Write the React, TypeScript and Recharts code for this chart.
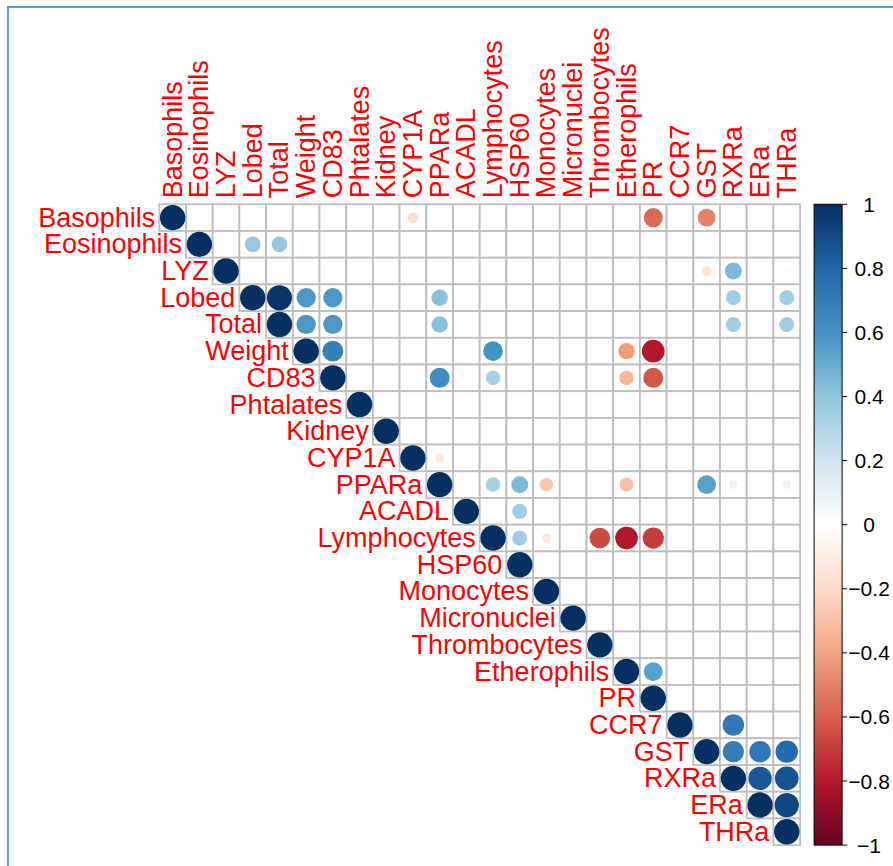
import React from "react";
import { ScatterChart, Scatter, XAxis, YAxis, Customized } from "recharts";

// variables in plot order
const VARS = [
  "Basophils", "Eosinophils", "LYZ", "Lobed", "Total", "Weight", "CD83",
  "Phtalates", "Kidney", "CYP1A", "PPARa", "ACADL", "Lymphocytes", "HSP60",
  "Monocytes", "Micronuclei", "Thrombocytes", "Etherophils", "PR", "CCR7",
  "GST", "RXRa", "ERa", "THRa",
];

// off-diagonal correlations (upper triangle)
const PAIRS: [string, string, number][] = [
  ["Basophils", "CYP1A", -0.18],
  ["Basophils", "PR", -0.57],
  ["Basophils", "GST", -0.5],
  ["Eosinophils", "Lobed", 0.38],
  ["Eosinophils", "Total", 0.38],
  ["LYZ", "GST", -0.15],
  ["LYZ", "RXRa", 0.45],
  ["LYZ", "ERa", 0.02],
  ["LYZ", "THRa", 0.03],
  ["Lobed", "Total", 0.98],
  ["Lobed", "Weight", 0.58],
  ["Lobed", "CD83", 0.58],
  ["Lobed", "PPARa", 0.42],
  ["Lobed", "RXRa", 0.35],
  ["Lobed", "THRa", 0.35],
  ["Total", "Weight", 0.58],
  ["Total", "CD83", 0.58],
  ["Total", "PPARa", 0.42],
  ["Total", "RXRa", 0.35],
  ["Total", "THRa", 0.35],
  ["Weight", "CD83", 0.68],
  ["Weight", "Lymphocytes", 0.6],
  ["Weight", "Etherophils", -0.42],
  ["Weight", "PR", -0.8],
  ["CD83", "PPARa", 0.62],
  ["CD83", "Lymphocytes", 0.33],
  ["CD83", "Etherophils", -0.33],
  ["CD83", "PR", -0.62],
  ["CYP1A", "PPARa", -0.12],
  ["PPARa", "Lymphocytes", 0.33],
  ["PPARa", "HSP60", 0.45],
  ["PPARa", "Monocytes", -0.28],
  ["PPARa", "Etherophils", -0.3],
  ["PPARa", "GST", 0.55],
  ["PPARa", "RXRa", 0.1],
  ["PPARa", "ERa", 0.02],
  ["PPARa", "THRa", 0.1],
  ["ACADL", "HSP60", 0.35],
  ["Lymphocytes", "HSP60", 0.35],
  ["Lymphocytes", "Monocytes", -0.13],
  ["Lymphocytes", "Thrombocytes", -0.66],
  ["Lymphocytes", "Etherophils", -0.8],
  ["Lymphocytes", "PR", -0.7],
  ["Monocytes", "Thrombocytes", 0.02],
  ["Etherophils", "PR", 0.55],
  ["CCR7", "RXRa", 0.72],
  ["GST", "RXRa", 0.7],
  ["GST", "ERa", 0.72],
  ["GST", "THRa", 0.78],
  ["RXRa", "ERa", 0.85],
  ["RXRa", "THRa", 0.87],
  ["ERa", "THRa", 0.92],
];

const CB_TICKS = [-1, -0.8, -0.6, -0.4, -0.2, 0, 0.2, 0.4, 0.6, 0.8, 1];

// RdBu palette (corrplot COL2)
const RDBU = [
  "#67001F", "#B2182B", "#D6604D", "#F4A582", "#FDDBC7", "#FFFFFF",
  "#D1E5F0", "#92C5DE", "#4393C3", "#2166AC", "#053061",
];

const W = 893;
const H = 866;
const CB_AXIS_W = 92.9;
const MARGIN = { top: 204.3, left: 159.3, right: 0, bottom: 20.9 };
const N = VARS.length;
const CELL = (W - MARGIN.left - CB_AXIS_W) / N;
const PLOT_RIGHT = W - CB_AXIS_W;
const PLOT_TOP = MARGIN.top;
const PLOT_BOTTOM = H - MARGIN.bottom;
const R_MAX = CELL * 0.475;
const FONT = "'Liberation Sans', Arial, sans-serif";

function hexToRgb(h: string) {
  return [1, 3, 5].map((k) => parseInt(h.slice(k, k + 2), 16));
}

function colorFor(r: number) {
  const t = ((r + 1) / 2) * 10;
  const k = Math.min(9, Math.max(0, Math.floor(t)));
  const f = t - k;
  const a = hexToRgb(RDBU[k]);
  const b = hexToRgb(RDBU[k + 1]);
  const c = a.map((v, n) => Math.round(v + (b[n] - v) * f));
  return `rgb(${c[0]},${c[1]},${c[2]})`;
}

const cells: any[] = [];
for (let i = 0; i < N; i++) {
  for (let j = i; j < N; j++) {
    cells.push({ x: j + 0.5, y: i + 0.5, i, j });
  }
}

const labels = VARS.map((v, i) => ({ x: i + 0.5, y: i + 0.5, i }));

const dots = [
  ...VARS.map((v, i) => ({ x: i + 0.5, y: i + 0.5, r: 1 })),
  ...PAIRS.map(([a, b, r]) => ({
    x: VARS.indexOf(b) + 0.5,
    y: VARS.indexOf(a) + 0.5,
    r,
  })),
];

// points on the colour-bar axis so that it gets ticks
const cbPoints = CB_TICKS.map((v) => ({ x: 0, y: v }));

const CellShape = (props: any) => {
  const { cx, cy } = props;
  const h = CELL / 2;
  return (
    <rect
      x={cx - h}
      y={cy - h}
      width={CELL}
      height={CELL}
      fill="#fff"
      stroke="#BEBEBE"
      strokeWidth={1.8}
    />
  );
};

const LabelShape = (props: any) => {
  const { cx, cy, payload } = props;
  const h = CELL / 2;
  return (
    <g fontFamily={FONT} fontSize={27} fill="#FF0000">
      <text x={cx - h - 4} y={cy} textAnchor="end" dominantBaseline="central">
        {VARS[payload.i]}
      </text>
      <text
        transform={`translate(${cx}, ${PLOT_TOP - 6}) rotate(-90)`}
        textAnchor="start"
        dominantBaseline="central"
      >
        {VARS[payload.i]}
      </text>
    </g>
  );
};

const DotShape = (props: any) => {
  const { cx, cy, payload } = props;
  return (
    <circle
      cx={cx}
      cy={cy}
      r={R_MAX * Math.sqrt(Math.abs(payload.r))}
      fill={colorFor(payload.r)}
    />
  );
};

const ColorBar = () => (
  <g>
    <defs>
      <linearGradient id="cbGrad" x1="0" y1="1" x2="0" y2="0">
        {RDBU.map((c, k) => (
          <stop key={k} offset={k / 10} stopColor={c} />
        ))}
      </linearGradient>
    </defs>
    <rect
      x={PLOT_RIGHT + 14}
      y={PLOT_TOP}
      width={28}
      height={PLOT_BOTTOM - PLOT_TOP}
      fill="url(#cbGrad)"
      stroke="#000"
      strokeWidth={1}
    />
  </g>
);

const fmt = (v: number) => (v === 0 ? "0" : (v < 0 ? "\u2212" : "") + Math.abs(v));

const CbTick = (props: any) => {
  const { y, payload } = props;
  const bx = PLOT_RIGHT + 42;
  return (
    <g>
      <line x1={bx} x2={bx + 5} y1={y} y2={y} stroke="#000" strokeWidth={1} />
      <text
        x={PLOT_RIGHT + 69}
        y={y}
        textAnchor="middle"
        dominantBaseline="central"
        fontFamily={FONT}
        fontSize={21}
        fill="#000"
      >
        {fmt(payload.value)}
      </text>
    </g>
  );
};

export default function App() {
  return (
    <div style={{ position: "absolute", left: 0, top: 0, width: W, height: H, background: "#fff" }}>
      <div
        style={{
          position: "absolute",
          left: 7,
          top: 6,
          width: W,
          height: H,
          borderTop: "2px solid #5B9BD5",
          borderLeft: "2px solid #5B9BD5",
        }}
      />
      <div style={{ position: "absolute", left: 0, top: 0 }}>
        <ScatterChart width={W} height={H} margin={MARGIN}>
          <XAxis type="number" dataKey="x" domain={[0, N]} hide />
          <YAxis yAxisId="m" type="number" dataKey="y" domain={[0, N]} reversed hide />
          <YAxis
            yAxisId="cb"
            orientation="right"
            type="number"
            dataKey="y"
            domain={[-1, 1]}
            ticks={CB_TICKS}
            interval={0}
            width={CB_AXIS_W}
            axisLine={false}
            tickLine={false}
            tick={(p: any) => <CbTick {...p} />}
          />
          <Customized component={<ColorBar />} />
          <Scatter
            yAxisId="m"
            data={cells}
            shape={(p: any) => <CellShape {...p} />}
            isAnimationActive={false}
          />
          <Scatter
            yAxisId="m"
            data={labels}
            shape={(p: any) => <LabelShape {...p} />}
            isAnimationActive={false}
          />
          <Scatter
            yAxisId="m"
            data={dots}
            shape={(p: any) => <DotShape {...p} />}
            isAnimationActive={false}
          />
          <Scatter
            yAxisId="cb"
            data={cbPoints}
            shape={() => <g />}
            isAnimationActive={false}
          />
        </ScatterChart>
      </div>
    </div>
  );
}
